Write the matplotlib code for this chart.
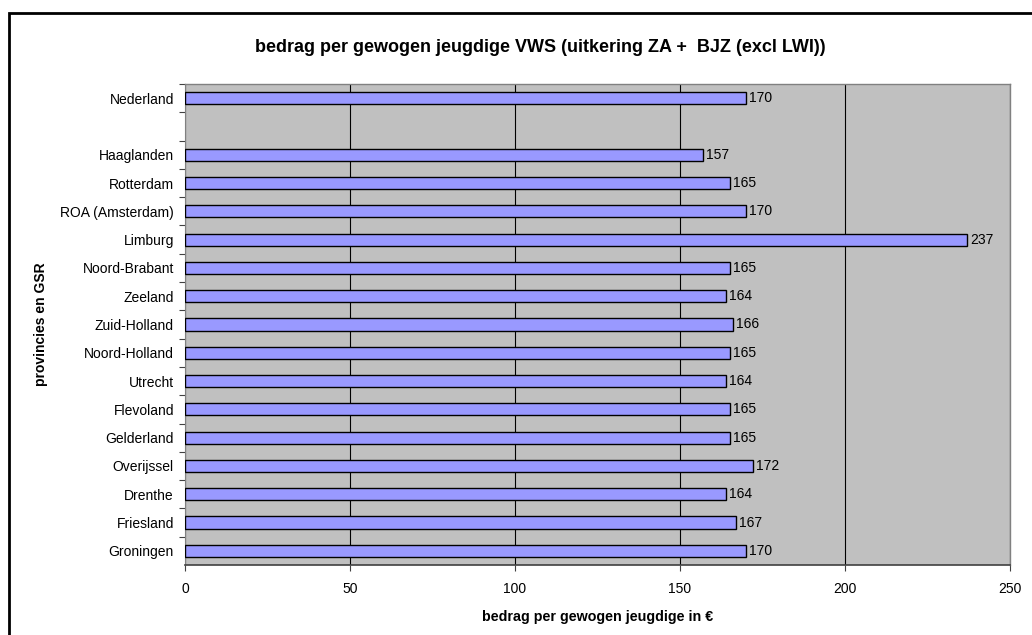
import matplotlib
matplotlib.use('Agg')
import matplotlib.pyplot as plt
from matplotlib.patches import Rectangle

# data (top to bottom), empty slot between Nederland and Haaglanden
regios = ['Nederland', '', 'Haaglanden', 'Rotterdam', 'ROA (Amsterdam)', 'Limburg',
          'Noord-Brabant', 'Zeeland', 'Zuid-Holland', 'Noord-Holland', 'Utrecht',
          'Flevoland', 'Gelderland', 'Overijssel', 'Drenthe', 'Friesland', 'Groningen']
bedrag = [170, None, 157, 165, 170, 237, 165, 164, 166, 165, 164, 165, 165, 172, 164, 167, 170]
x_ticks = [0, 50, 100, 150, 200, 250]

plt.rcParams['font.family'] = ['Liberation Sans', 'DejaVu Sans']

fig = plt.figure(figsize=(10.32, 6.35), dpi=100)
ax = fig.add_axes([185 / 1032, 1 - 565 / 635, 825 / 1032, 481 / 635])

# outer chart frame (right/bottom run off the picture)
fig.patches.append(Rectangle((9 / 1032, -0.05), 1.1, 1 - 13 / 635 + 0.05,
                             transform=fig.transFigure, fill=False,
                             edgecolor='black', linewidth=2))

ax.set_facecolor('#C0C0C0')
n = len(regios)
pos = list(range(n))
for i, v in enumerate(bedrag):
    if v is None:
        continue
    ax.barh(pos[i], v, height=0.43, color='#9999FF', edgecolor='black', linewidth=1, zorder=3)
    ax.text(v + 1.0, pos[i], str(v), va='center', ha='left', fontsize=10, zorder=4)

ax.set_ylim(n - 0.5, -0.5)
ax.set_xlim(0, 250)
ax.set_xticks(x_ticks)
ax.set_xticklabels([str(t) for t in x_ticks], fontsize=10)
ax.set_yticks(pos)
ax.set_yticklabels(regios, fontsize=10)
ax.set_yticks([p + 0.5 for p in pos[:-1]] + [-0.5], minor=True)
ax.tick_params(axis='y', which='major', length=0, pad=8)
ax.tick_params(axis='y', which='minor', length=4, width=0.8, color='#404040', direction='out')
ax.tick_params(axis='x', length=4, width=0.8, pad=8, direction='out', color='#404040')

ax.grid(axis='x', color='black', linewidth=0.8, zorder=1)
ax.set_axisbelow(True)
for s in ['top', 'right']:
    ax.spines[s].set_color('#808080')
    ax.spines[s].set_linewidth(1)
ax.spines['left'].set_color('#808080')
ax.spines['bottom'].set_color('#404040')
ax.spines['bottom'].set_linewidth(1.2)

ax.set_xlabel('bedrag per gewogen jeugdige in €', fontsize=10.3, fontweight='bold', labelpad=10)
ax.set_ylabel('provincies en GSR', fontsize=10, fontweight='bold')
ax.yaxis.set_label_coords(-0.166, 0.5)
fig.text(540 / 1032, 1 - 47 / 635, 'bedrag per gewogen jeugdige VWS (uitkering ZA +  BJZ (excl LWI))',
         ha='center', va='center', fontsize=13, fontweight='bold')

fig.savefig('out.png', dpi=100, facecolor='white')
